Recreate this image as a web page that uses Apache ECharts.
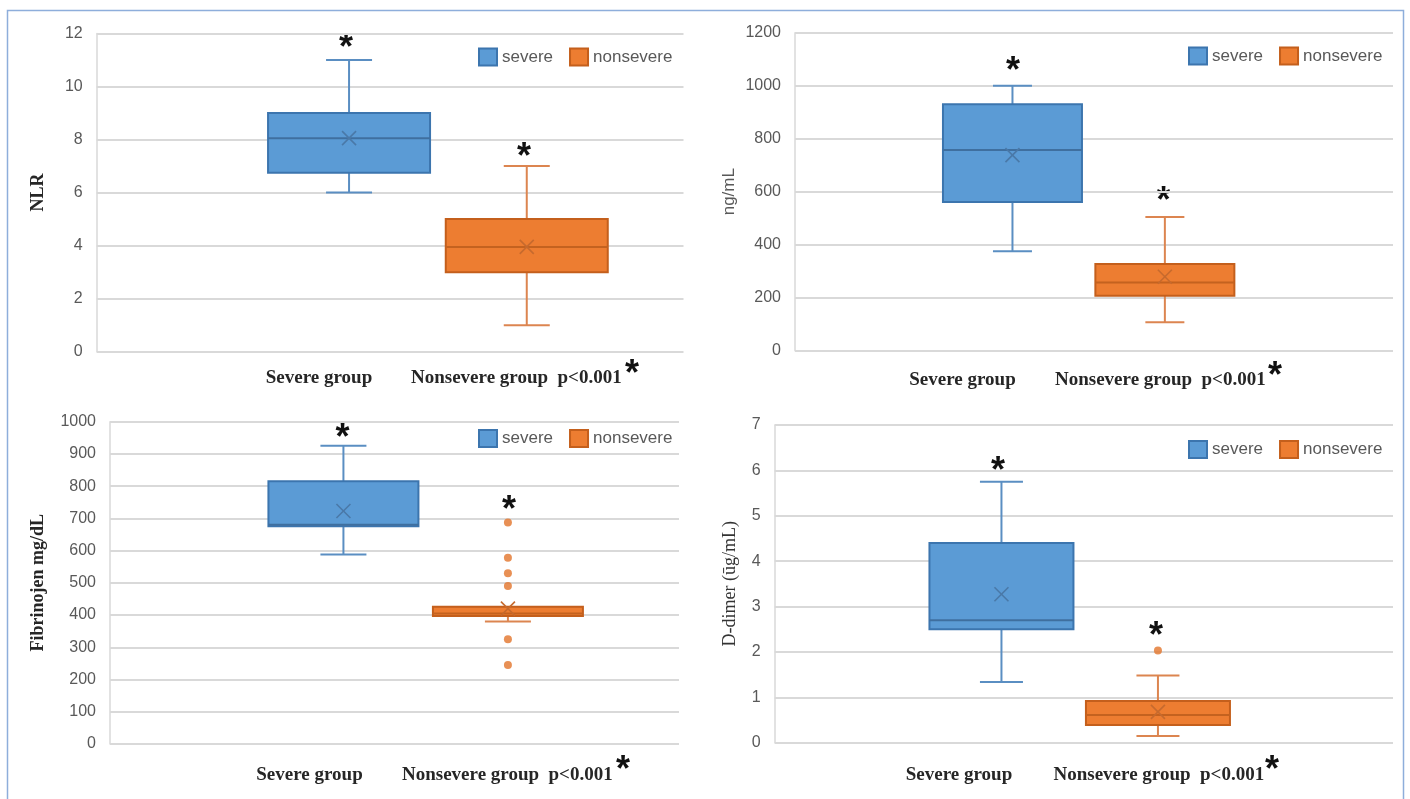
<!DOCTYPE html>
<html><head><meta charset="utf-8">
<script src="https://cdn.jsdelivr.net/npm/echarts@6/dist/echarts.min.js"></script>
<style>html,body{margin:0;padding:0;background:#fff}#c{width:1410px;height:799px}</style>
</head><body><div id="c"></div>
<script>
// ---------- data ----------
const groups = ['severe', 'nonsevere'];
const groupLabels = ['Severe group', 'Nonsevere group  p<0.001'];

// NLR
const nlrMin    = [6, 1];
const nlrQ1     = [6.75, 3];
const nlrMedian = [8.05, 3.95];
const nlrQ3     = [9, 5];
const nlrMax    = [11, 7];
const nlrMean   = [8.05, 3.95];
const nlrOutliers = [];

// ng/mL
const ngMin    = [375, 107];
const ngQ1     = [561, 207];
const ngMedian = [757, 257];
const ngQ3     = [930, 327];
const ngMax    = [1000, 505];
const ngMean   = [738, 279];
const ngOutliers = [];

// Fibrinojen mg/dL
const fibMin    = [588, 380];
const fibQ1     = [676, 397];
const fibMedian = [680, 405];
const fibQ3     = [815, 426];
const fibMax    = [925, 426];
const fibMean   = [723, 420];
const fibOutliers = [687, 578, 530, 490, 325, 245];

// D-dimer
const ddMin    = [1.34, 0.15];
const ddQ1     = [2.5, 0.39];
const ddMedian = [2.7, 0.61];
const ddQ3     = [4.4, 0.92];
const ddMax    = [5.75, 1.48];
const ddMean   = [3.27, 0.68];
const ddOutliers = [2.03];

// axis ticks [min, max, interval]
const nlrTicks = [0, 12, 2];
const ngTicks  = [0, 1200, 200];
const fibTicks = [0, 1000, 100];
const ddTicks  = [0, 7, 1];

const yTitles = ['NLR', 'ng/mL', 'Fibrinojen mg/dL', 'D-dimer (\u016Bg/mL)'];

// ---------- styles / layout ----------
const COLORS = [
  {fill:'#5b9bd5', border:'#3c75ae', whisker:'#5a8ec2', median:'#3f6f9f', mean:'#4a79a8'},
  {fill:'#ed7d31', border:'#c45f1c', whisker:'#dc8550', median:'#c4621f', mean:'#c66a2e'}
];
const serif = "'Liberation Serif', 'DejaVu Serif', serif";
const sans = "'Liberation Sans', 'DejaVu Sans', sans-serif";

const panels = [
  {stats:[nlrMin,nlrQ1,nlrMedian,nlrQ3,nlrMax,nlrMean], out:nlrOutliers, ticks:nlrTicks,
   grid:{left:96.7, top:33.4, width:586.8, height:318.3}, xr:[-1.420, 1.882], boxW:162, capW:46,
   nameGap:49, nameStyle:{fontFamily:serif, fontWeight:'bold', fontSize:18, color:'#262626'},
   legend:{left:478, top:47.5},
   lab:{sev:[319,378], non:[411,378], star:[632,366]}, stars:[[346,40],[524,149]]},
  {stats:[ngMin,ngQ1,ngMedian,ngQ3,ngMax,ngMean], out:ngOutliers, ticks:ngTicks,
   grid:{left:795, top:32.7, width:598, height:318}, xr:[-1.427, 2.497], boxW:139, capW:39,
   nameGap:57, nameStyle:{fontFamily:sans, fontSize:17, color:'#595959'},
   legend:{left:1188, top:46.5},
   lab:{sev:[962.5,380], non:[1055,380], star:[1275,368]}, stars:[[1013,63],[1163.5,193]]},
  {stats:[fibMin,fibQ1,fibMedian,fibQ3,fibMax,fibMean], out:fibOutliers, ticks:fibTicks,
   grid:{left:110, top:421.7, width:569, height:322.3}, xr:[-1.419, 2.040], boxW:150, capW:46,
   nameGap:63, nameStyle:{fontFamily:serif, fontWeight:'bold', fontSize:18, color:'#262626'},
   legend:{left:478, top:429},
   lab:{sev:[309.5,775], non:[402,775], star:[623,762]}, stars:[[342.5,430.5],[509,502]]},
  {stats:[ddMin,ddQ1,ddMedian,ddQ3,ddMax,ddMean], out:ddOutliers, ticks:ddTicks,
   grid:{left:774.7, top:425, width:618.3, height:317.7}, xr:[-1.449, 2.502], boxW:144, capW:43,
   nameGap:35, nameStyle:{fontFamily:serif, fontSize:18, color:'#333333'},
   legend:{left:1188, top:440},
   lab:{sev:[959,775], non:[1053.5,775], star:[1272,762]}, stars:[[998,463.5],[1156,628]]}
];

function makeRender(boxW, capW, c) {
  return function (params, api) {
    const x = api.value(0);
    const pMin = api.coord([x, api.value(1)]);
    const pQ1 = api.coord([x, api.value(2)]);
    const pMed = api.coord([x, api.value(3)]);
    const pQ3 = api.coord([x, api.value(4)]);
    const pMax = api.coord([x, api.value(5)]);
    const pMean = api.coord([x, api.value(6)]);
    const cx = pMin[0];
    const wl = {stroke: c.whisker, lineWidth: 2};
    const m = 7;
    const children = [];
    if (pMax[1] < pQ3[1] - 0.5) {
      children.push({type:'line', shape:{x1:cx, y1:pMax[1], x2:cx, y2:pQ3[1]}, style:wl});
      children.push({type:'line', shape:{x1:cx-capW/2, y1:pMax[1], x2:cx+capW/2, y2:pMax[1]}, style:wl});
    }
    children.push({type:'line', shape:{x1:cx, y1:pQ1[1], x2:cx, y2:pMin[1]}, style:wl});
    children.push({type:'line', shape:{x1:cx-capW/2, y1:pMin[1], x2:cx+capW/2, y2:pMin[1]}, style:wl});
    children.push({type:'rect', shape:{x:cx-boxW/2, y:pQ3[1], width:boxW, height:pQ1[1]-pQ3[1]},
      style:{fill:c.fill, stroke:c.border, lineWidth:2}});
    children.push({type:'line', shape:{x1:cx-boxW/2, y1:pMed[1], x2:cx+boxW/2, y2:pMed[1]},
      style:{stroke:c.median, lineWidth:2}});
    children.push({type:'line', shape:{x1:cx-m, y1:pMean[1]-m, x2:cx+m, y2:pMean[1]+m}, style:{stroke:c.mean, lineWidth:1.6}});
    children.push({type:'line', shape:{x1:cx-m, y1:pMean[1]+m, x2:cx+m, y2:pMean[1]-m}, style:{stroke:c.mean, lineWidth:1.6}});
    return {type:'group', children};
  };
}

const option = {
  animation:false,
  backgroundColor:'#ffffff',
  grid:[], xAxis:[], yAxis:[], series:[], legend:[], graphic:[]
};

panels.forEach((p, pi) => {
  option.grid.push(Object.assign({containLabel:false}, p.grid));
  option.xAxis.push({type:'value', gridIndex:pi, min:p.xr[0], max:p.xr[1], show:false,
    axisLine:{onZero:false}, splitLine:{show:false}});
  option.yAxis.push({
    type:'value', gridIndex:pi, min:p.ticks[0], max:p.ticks[1], interval:p.ticks[2],
    name:yTitles[pi], nameLocation:'middle', nameGap:p.nameGap, nameTextStyle:p.nameStyle,
    axisLine:{show:true, onZero:false, lineStyle:{color:'#d9d9d9', width:1.5}},
    axisTick:{show:false},
    axisLabel:{fontFamily:sans, fontSize:16, color:'#595959', margin:14, formatter:(v) => String(v)},
    splitLine:{show:true, lineStyle:{color:'#d9d9d9', width:2}}
  });
  groups.forEach((g, gi) => {
    const s = p.stats;
    option.series.push({
      type:'custom', name:g, xAxisIndex:pi, yAxisIndex:pi,
      itemStyle:{color:COLORS[gi].fill, borderColor:COLORS[gi].border, borderWidth:1},
      renderItem:makeRender(p.boxW, p.capW, COLORS[gi]),
      encode:{x:0, y:[1,2,3,4,5,6]},
      data:[[gi, s[0][gi], s[1][gi], s[2][gi], s[3][gi], s[4][gi], s[5][gi]]],
      z:3
    });
  });
  if (p.out.length) {
    option.series.push({
      type:'scatter', name:'nonsevere', xAxisIndex:pi, yAxisIndex:pi,
      symbol:'circle', symbolSize:8,
      itemStyle:{color:'#e2742a'},
      data:p.out.map(v => [1, v]), z:4
    });
  }
  option.legend.push({
    data:groups, left:p.legend.left, top:p.legend.top, padding:0,
    icon:'rect', itemWidth:18, itemHeight:17, itemGap:16,
    textStyle:{fontFamily:sans, fontSize:17, color:'#595959'}
  });
  // x labels
  option.graphic.push({type:'text', x:p.lab.sev[0], y:p.lab.sev[1],
    style:{text:groupLabels[0], font:"bold 19px "+serif, fill:'#262626', align:'center', verticalAlign:'middle'}});
  option.graphic.push({type:'text', x:p.lab.non[0], y:p.lab.non[1],
    style:{text:groupLabels[1], font:"bold 19px "+serif, fill:'#262626', align:'left', verticalAlign:'middle'}});
  option.graphic.push({type:'text', x:p.lab.star[0], y:p.lab.star[1]+9,
    style:{text:'*', font:"bold 36px "+sans, fill:'#111', align:'center', verticalAlign:'middle'}});
  p.stars.forEach(st => {
    option.graphic.push({type:'text', x:st[0], y:st[1]+9,
      style:{text:'*', font:"bold 36px "+sans, fill:'#111', align:'center', verticalAlign:'middle'}});
  });
});

option.graphic.push({type:'rect', shape:{x:7.5, y:10.5, width:1396, height:800},
  style:{fill:'none', stroke:'#8eaedb', lineWidth:1.5}, z:100});

const chart = echarts.init(document.getElementById('c'));
chart.setOption(option);
</script>
</body></html>
